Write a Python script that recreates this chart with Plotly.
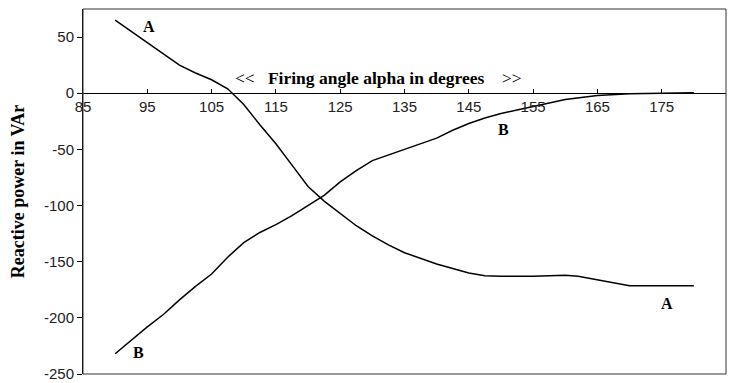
import plotly.graph_objects as go

# Firing angle (degrees) and reactive power (VAr) for the two branches
alpha_a = [90, 92.5, 95, 97.5, 100, 102.5, 105, 107.5, 110, 112.5, 115, 117.5, 120,
           122.5, 125, 127.5, 130, 132.5, 135, 137.5, 140, 142.5, 145, 147.5, 150,
           155, 158, 160, 162, 165, 170, 175, 180]
q_a = [65, 55, 45, 35, 25, 18, 12, 4, -10, -28, -45, -64, -83,
       -96, -107, -118, -127, -135, -142, -147, -152, -156, -160, -162.5, -163,
       -163, -162, -162, -163, -166, -171.5, -171.5, -171.5]

alpha_b = [90, 92.5, 95, 97.5, 100, 102.5, 105, 107.5, 110, 112.5, 115, 117.5, 120,
           122.5, 125, 127.5, 130, 132.5, 135, 137.5, 140, 142.5, 145, 147.5, 150,
           152.5, 155, 157.5, 160, 165, 170, 175, 180]
q_b = [-232, -220, -208, -197, -184, -172, -161, -146, -133, -124, -117, -109, -100,
       -91, -79, -69, -60, -55, -50, -45, -40, -33, -27, -22, -18,
       -15, -12, -8.5, -5.5, -2, -0.5, 0, 0.5]

x_ticks = [85, 95, 105, 115, 125, 135, 145, 155, 165, 175, 185]
y_ticks = [-250, -200, -150, -100, -50, 0, 50]
y_tick_text = ["-250", "-200", "-150", "-100", "-50", "0", "50"]
y_range = [-250, 75]

serif = "Liberation Serif, Times New Roman, serif"
sans = "Liberation Sans, Arial, sans-serif"

fig = go.Figure()
for xs, ys in ((alpha_a, q_a), (alpha_b, q_b)):
    fig.add_trace(go.Scatter(x=xs, y=ys, mode="lines",
                             line=dict(color="black", width=1.5),
                             showlegend=False, hoverinfo="skip"))

# curve labels
labels = [("A", 95.2, 59.5), ("A", 175.8, -187), ("B", 150.4, -32), ("B", 93.7, -231)]
for txt, lx, ly in labels:
    fig.add_annotation(x=lx, y=ly, text=f"<b>{txt}</b>", showarrow=False,
                       font=dict(family=serif, size=16, color="black"))

fig.add_annotation(x=131.0, y=14,
                   text="&lt;&lt;&nbsp;&nbsp;&nbsp;<b>Firing angle alpha in degrees</b>&nbsp;&nbsp;&nbsp;&nbsp;&gt;&gt;",
                   showarrow=False, font=dict(family=serif, size=17.5, color="black"))

# x axis sits on the zero line of the power axis
zero_pos = (0 - y_range[0]) / (y_range[1] - y_range[0])

fig.update_layout(
    width=738, height=383,
    margin=dict(l=83, r=12, t=9, b=9),
    plot_bgcolor="white", paper_bgcolor="white",
    xaxis=dict(range=[85, 185], tickvals=x_ticks, showgrid=False, zeroline=False,
               anchor="free", position=zero_pos, automargin=False,
               showline=True, linecolor="black", linewidth=1,
               ticks="inside", ticklen=4, tickcolor="black",
               tickfont=dict(family=sans, size=15, color="#222")),
    yaxis=dict(range=y_range, tickvals=y_ticks, ticktext=y_tick_text,
               showgrid=False, zeroline=False, ticklabeloverflow="allow",
               automargin=False,
               showline=True, linecolor="black", linewidth=1,
               ticks="outside", ticklen=5, tickcolor="black",
               tickfont=dict(family=sans, size=15, color="#222"),
               title=dict(text="<b>Reactive power in VAr</b>",
                          font=dict(family=serif, size=18, color="black"),
                          standoff=14)),
    shapes=[dict(type="rect", xref="paper", yref="paper", x0=0, y0=0, x1=1, y1=1,
                 line=dict(color="#333", width=1))],
)

fig.write_html("out.html")
